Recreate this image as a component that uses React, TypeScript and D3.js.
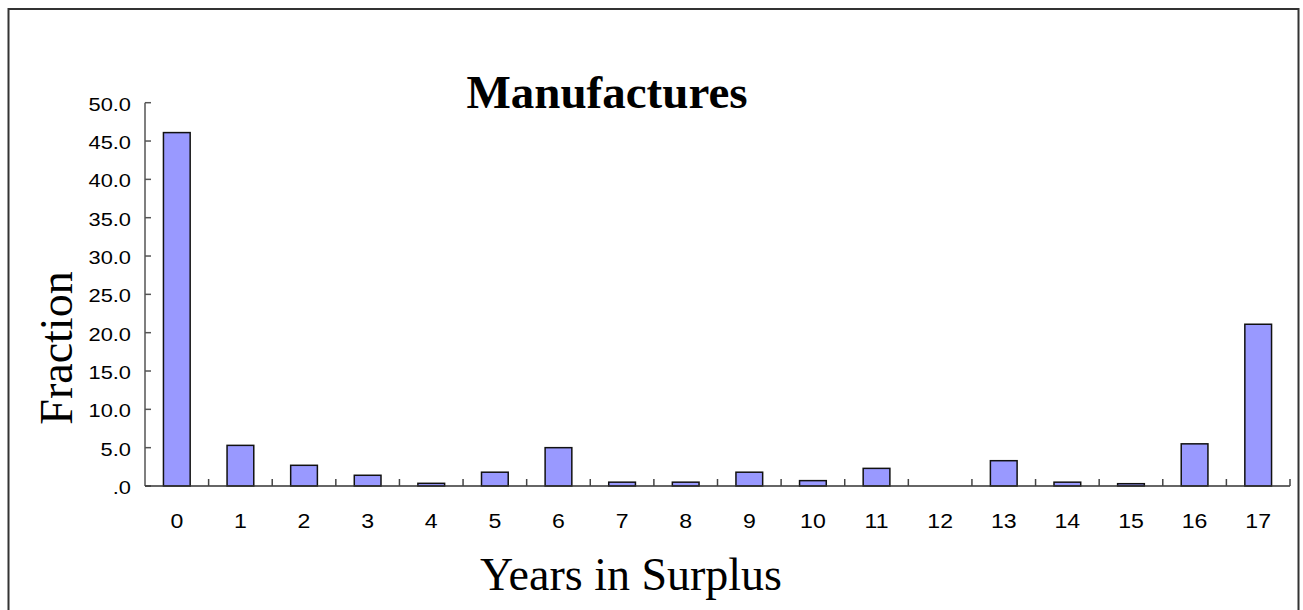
import React from "react";
import * as d3 from "d3";

const years = ["0", "1", "2", "3", "4", "5", "6", "7", "8", "9", "10", "11", "12", "13", "14", "15", "16", "17"];
const fraction = [46.1, 5.3, 2.7, 1.4, 0.35, 1.8, 5.0, 0.5, 0.5, 1.8, 0.7, 2.3, 0, 3.3, 0.5, 0.3, 5.5, 21.1];
const yTicks = [0, 5, 10, 15, 20, 25, 30, 35, 40, 45, 50];

const W = 1303;
const H = 610;
const sans = "'Liberation Sans', Arial, sans-serif";
const serif = "'Liberation Serif', 'Times New Roman', serif";

export default function App() {
  const x = d3.scaleBand<string>().domain(years).range([145, 1290]).paddingInner(0.58).paddingOuter(0.29);
  const y = d3.scaleLinear().domain([0, 50]).range([486, 102.7]);
  const fmt = (v: number) => d3.format(".1f")(v).replace(/^0\./, ".");

  const x0 = x.range()[0];
  const boundaries = d3.range(1, years.length + 1).map((i) => x0 + i * x.step());

  return (
    <svg
      width={W}
      height={H}
      style={{ position: "fixed", left: 0, top: 0, display: "block", background: "#fff" }}
    >
      <rect x={8.5} y={9} width={1290} height={640} fill="#fff" stroke="#333" strokeWidth={2} />

      <text x={607} y={108} textAnchor="middle" fontFamily={serif} fontWeight="bold" fontSize={47}>
        Manufactures
      </text>

      {/* bars */}
      {years.map((yr, i) =>
        fraction[i] > 0 ? (
          <rect
            key={yr}
            x={x(yr)}
            y={y(fraction[i])}
            width={x.bandwidth()}
            height={y(0) - y(fraction[i])}
            fill="#9999ff"
            stroke="#111"
            strokeWidth={1.5}
          />
        ) : null
      )}

      {/* y axis */}
      <line x1={145} x2={145} y1={y(50)} y2={y(0)} stroke="#555" strokeWidth={1.5} />
      {yTicks.map((t) => (
        <g key={t}>
          <line x1={145} x2={151} y1={y(t)} y2={y(t)} stroke="#555" strokeWidth={1.5} />
          <text
            transform={`translate(131,${y(t) + 8}) scale(1.15,1)`}
            textAnchor="end"
            fontFamily={sans}
            fontSize={19}
          >
            {fmt(t)}
          </text>
        </g>
      ))}

      {/* x axis */}
      <line x1={145} x2={1290} y1={y(0)} y2={y(0)} stroke="#333" strokeWidth={1.5} />
      {boundaries.map((b, i) => (
        <line key={i} x1={b} x2={b} y1={y(0)} y2={y(0) - 7} stroke="#444" strokeWidth={1.5} />
      ))}
      {years.map((yr) => (
        <text
          key={yr}
          transform={`translate(${(x(yr) || 0) + x.bandwidth() / 2},528) scale(1.1,1)`}
          textAnchor="middle"
          fontFamily={sans}
          fontSize={21}
        >
          {yr}
        </text>
      ))}

      <text transform="translate(72,348) rotate(-90)" textAnchor="middle" fontFamily={serif} fontSize={46}>
        Fraction
      </text>
      <text x={631} y={590} textAnchor="middle" fontFamily={serif} fontSize={46}>
        Years in Surplus
      </text>
    </svg>
  );
}
